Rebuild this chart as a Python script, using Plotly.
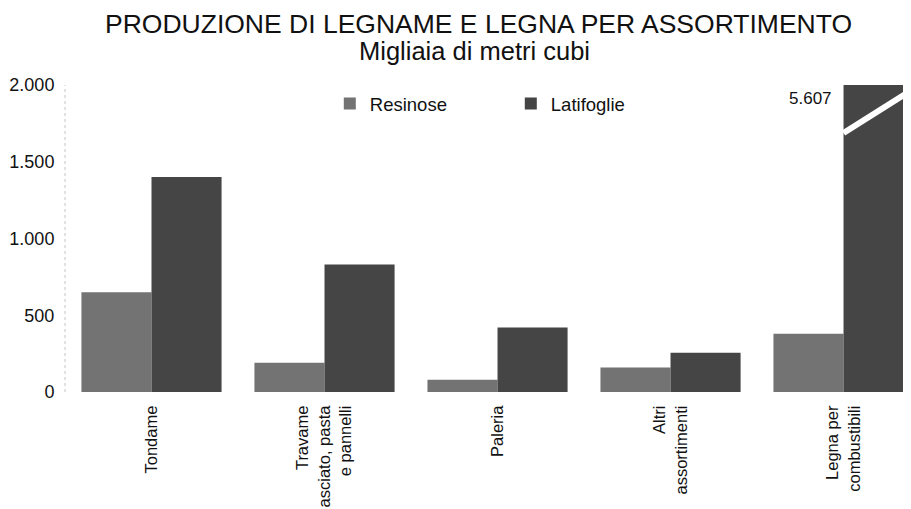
import plotly.graph_objects as go

# --- Data (migliaia di metri cubi) ---
categorie = ["Tondame", "Travame<br>asciato, pasta<br>e pannelli", "Paleria",
             "Altri<br>assortimenti", "Legna per<br>combustibili"]
resinose = [650, 190, 80, 160, 380]
latifoglie = [1400, 830, 420, 255, 5607]
y_ticks = [0, 500, 1000, 1500, 2000]

FONT = "Liberation Sans, Arial, sans-serif"
x = list(range(len(categorie)))

# the page body adds an 8px offset, margins are set to compensate
fig = go.Figure()
fig.add_trace(go.Bar(x=x, y=resinose, name="Resinose",
                     marker=dict(color="#737373", line=dict(width=0))))
fig.add_trace(go.Bar(x=x, y=latifoglie, name="Latifoglie",
                     marker=dict(color="#454545", line=dict(width=0))))

# bar that goes off the scale: value label + white break mark
fig.add_annotation(x=3.81, y=1915, xref="x", yref="y", text="5.607",
                   showarrow=False, font=dict(size=17, color="#111"))
fig.add_shape(type="line", xref="x", yref="y", x0=4.0, y0=1687, x1=4.42, y1=1986,
              line=dict(color="white", width=6))

# dotted y axis
fig.add_shape(type="line", xref="paper", yref="paper", x0=0, y0=0, x1=0, y1=1,
              line=dict(color="#c4c4c4", width=1, dash="dot"))

# titles
fig.add_annotation(text="PRODUZIONE DI LEGNAME E LEGNA PER ASSORTIMENTO",
                   xref="paper", yref="paper", x=(478 - 65) / 846, y=1.198,
                   showarrow=False, xanchor="center", yanchor="middle",
                   font=dict(size=26.5, color="#111", family=FONT))
fig.add_annotation(text="Migliaia di metri cubi", xref="paper", yref="paper",
                   x=(474 - 65) / 846, y=1.11, showarrow=False,
                   xanchor="center", yanchor="middle",
                   font=dict(size=25.5, color="#111", family=FONT))

fig.update_layout(
    width=911, height=509,
    margin=dict(l=57, r=8, t=77, b=125, autoexpand=False),
    paper_bgcolor="white", plot_bgcolor="white",
    separators=",.",
    font=dict(family=FONT, color="#111"),
    barmode="group", bargap=0.19, bargroupgap=0,
    showlegend=True,
    legend=dict(orientation="h", x=0.313, y=0.938, xanchor="left", yanchor="middle",
                entrywidth=136, font=dict(size=18.5), bgcolor="rgba(0,0,0,0)"),
    xaxis=dict(tickmode="array", tickvals=x, ticktext=categorie, tickangle=-90,
               range=[-0.5, 4.39], showgrid=False, showline=False, zeroline=False,
               tickfont=dict(size=16.5), ticks="outside", ticklen=6,
               tickcolor="rgba(0,0,0,0)", automargin=False),
    yaxis=dict(range=[0, 2000], tickvals=y_ticks, tickformat=",d",
               showgrid=False, zeroline=False, showline=False,
               tickfont=dict(size=18), ticks="outside", ticklen=6,
               tickcolor="rgba(0,0,0,0)", automargin=False),
)

fig.write_html("out.html")
